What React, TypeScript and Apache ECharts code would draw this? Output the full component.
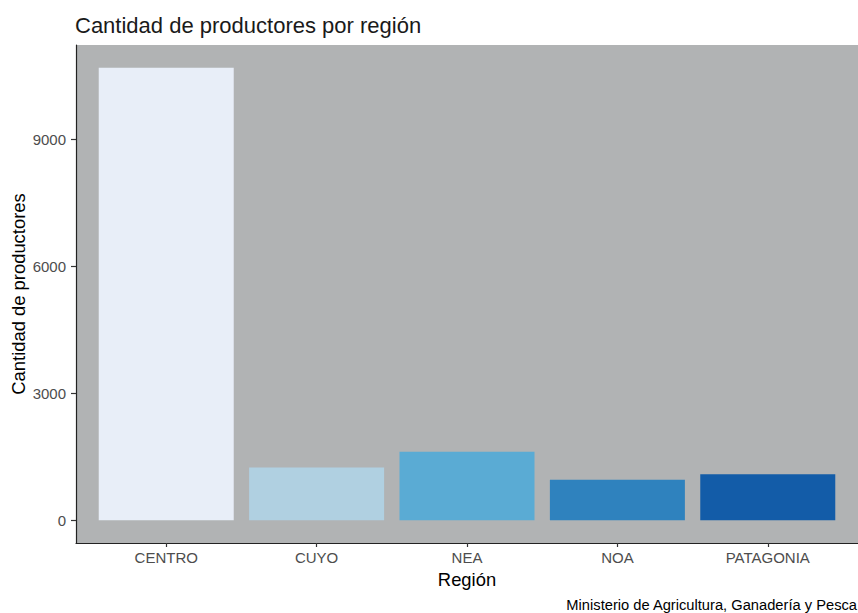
import React, { useEffect, useRef } from "react";
import * as echarts from "echarts";

const categories = ["CENTRO", "CUYO", "NEA", "NOA", "PATAGONIA"];
const productores = [10700, 1250, 1620, 960, 1090];
const barColors = ["#e8eef8", "#b0d0e1", "#5aabd4", "#2f82be", "#135ca8"];
const yTicks = [0, 3000, 6000, 9000];

const FONT = "'Liberation Sans', Arial, Helvetica, sans-serif";

export default function App() {
  const ref = useRef<HTMLDivElement>(null);
  useEffect(() => {
    if (!ref.current) return;
    const chart = echarts.init(ref.current, undefined, { renderer: "svg" });
    const maxV = Math.max(...productores);
    const pad = maxV * 0.05;
    const xPos = categories.map((_, i) => i + 1);
    chart.setOption({
      animation: false,
      backgroundColor: "#ffffff",
      textStyle: { fontFamily: FONT },
      grid: {
        left: 76,
        right: 0,
        top: 45,
        bottom: 70,
        show: true,
        backgroundColor: "#b1b3b4",
        borderWidth: 0,
      },
      xAxis: {
        type: "value",
        min: 0.4,
        max: categories.length + 0.6,
        axisLine: { show: true, onZero: false, lineStyle: { color: "#222222", width: 1.2 } },
        axisTick: { show: true, length: 4, customValues: xPos, lineStyle: { color: "#333333", width: 1.2 } },
        axisLabel: {
          customValues: xPos,
          margin: 7,
          fontSize: 15,
          fontFamily: FONT,
          color: "#4d4d4d",
          formatter: (v: number) => categories[Math.round(v) - 1] ?? "",
        },
        splitLine: { show: false },
      },
      yAxis: {
        type: "value",
        min: -pad,
        max: maxV + pad,
        axisLine: { show: true, onZero: false, lineStyle: { color: "#222222", width: 1.2 } },
        axisTick: { show: true, length: 5, customValues: yTicks, lineStyle: { color: "#333333", width: 1.2 } },
        axisLabel: {
          customValues: yTicks,
          margin: 10,
          fontSize: 15,
          fontFamily: FONT,
          color: "#4d4d4d",
          formatter: (v: number) => String(Math.round(v)),
        },
        splitLine: { show: false },
      },
      series: [
        {
          type: "bar",
          barWidth: 135,
          data: productores.map((v, i) => ({
            value: [i + 1, v],
            itemStyle: { color: barColors[i] },
          })),
        },
      ],
      graphic: [
        {
          type: "text",
          left: 75,
          top: 14.5,
          style: {
            text: "Cantidad de productores por región",
            font: `22px ${FONT}`,
            fill: "#1a1a1a",
          },
        },
        {
          type: "text",
          x: 18,
          y: 294,
          rotation: Math.PI / 2,
          style: {
            text: "Cantidad de productores",
            font: `18.4px ${FONT}`,
            fill: "#000000",
            align: "center",
            verticalAlign: "middle",
          },
        },
        {
          type: "text",
          x: 467,
          y: 579,
          style: {
            text: "Región",
            font: `18.4px ${FONT}`,
            fill: "#000000",
            align: "center",
            verticalAlign: "middle",
          },
        },
        {
          type: "text",
          x: 857,
          y: 605,
          style: {
            text: "Ministerio de Agricultura, Ganadería y Pesca",
            font: `14.7px ${FONT}`,
            fill: "#000000",
            align: "right",
            verticalAlign: "middle",
          },
        },
      ],
    });
    return () => chart.dispose();
  }, []);
  return (
    <div
      ref={ref}
      style={{ position: "fixed", left: 0, top: 0, width: 858, height: 613 }}
    />
  );
}
